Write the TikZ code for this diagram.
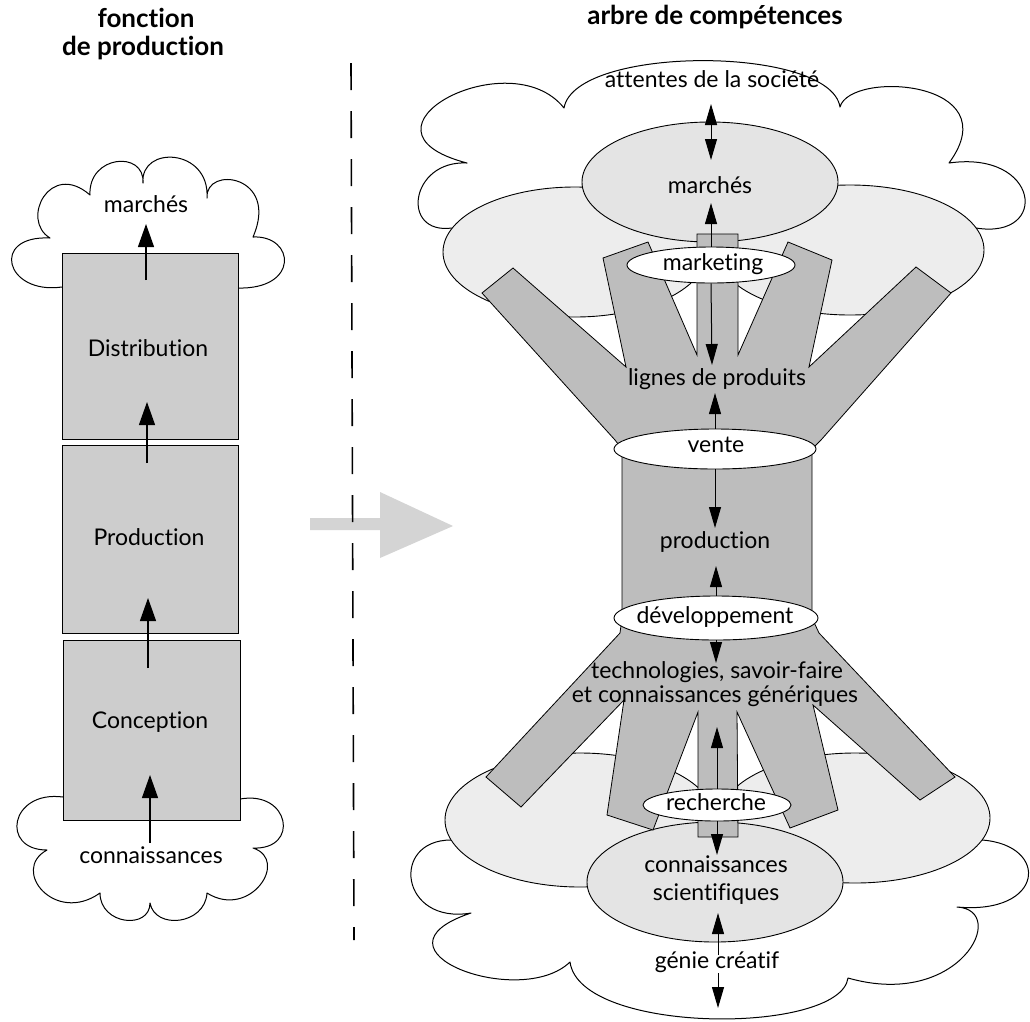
\documentclass[tikz,border=0pt]{standalone}
\usepackage{fontspec}
\setmainfont[Ligatures=NoCommon]{Lato}
\usetikzlibrary{arrows.meta,shapes.geometric}
\definecolor{boxgray}{HTML}{CDCDCD}
\definecolor{treegray}{HTML}{BDBDBD}
\definecolor{lightfill}{HTML}{EDEDED}
\definecolor{midfill}{HTML}{E4E4E4}
\definecolor{arrowgray}{HTML}{D4D4D4}
\begin{document}
\begin{tikzpicture}[x=1pt,y=1pt,
  txt/.style={font=\fontsize{23}{27}\selectfont, inner sep=0pt, text height=11.5pt, text depth=0pt},
  ttl/.style={font=\fontsize{26}{30}\selectfont\bfseries, inner sep=0pt, text height=13pt, text depth=0pt},
  lbox/.style={draw, line width=0.9pt, fill=boxgray, minimum width=176pt, inner sep=0pt},
  cloudline/.style={line width=1pt, line join=round},
  sideell/.style={ellipse, draw, line width=0.9pt, fill=lightfill, inner sep=0pt},
  mainell/.style={ellipse, draw, line width=0.9pt, fill=midfill, inner sep=0pt},
  whiteell/.style={ellipse, draw, line width=0.9pt, fill=white, inner sep=0pt},
  treeshape/.style={draw, line width=0.8pt, fill=treegray, line join=miter},
  larrow/.style={line width=1.2pt, -{Triangle[length=23pt,width=16pt]}},
  rarrow/.style={line width=1pt, -{Triangle[length=21pt,width=12pt]}},
  rdarrow/.style={line width=1pt, {Triangle[length=21pt,width=12pt]}-{Triangle[length=21pt,width=12pt]}},
  sepline/.style={line width=1.6pt, dash pattern=on 27pt off 21pt}
]
\fill[white] (0,0) rectangle (1030,-1021);
\useasboundingbox (0,0) rectangle (1030,-1021);

% ---------------- titles
\node[ttl] (titleL1) at (146,-21) {fonction};
\node[ttl] (titleL2) at (143,-49) {de production};
\node[ttl] (titleR) at (715,-18) {arbre de compétences};

% ---------------- big gray arrow and separator
\fill[arrowgray] (310,-518) -- (380,-518) -- (380,-492) -- (453,-526) -- (380,-558) -- (380,-530) -- (310,-530) -- cycle;
\draw[sepline] (351,-63) -- (354,-940);

% ---------------- left column
\draw[cloudline] (62,-287) .. controls (5,-295) and (-10,-235) .. (50,-238)
 .. controls (20,-220) and (50,-160) .. (90,-195)
 .. controls (88,-155) and (145,-150) .. (143,-183)
 .. controls (140,-145) and (210,-148) .. (207,-198)
 .. controls (205,-165) and (280,-175) .. (253,-237)
 .. controls (295,-235) and (300,-290) .. (237,-288);
\draw[cloudline] (240,-799) .. controls (290,-790) and (300,-850) .. (253,-848)
 .. controls (290,-860) and (250,-920) .. (207,-893)
 .. controls (205,-925) and (155,-930) .. (150,-903)
 .. controls (150,-930) and (100,-925) .. (100,-893)
 .. controls (55,-925) and (10,-870) .. (47,-850)
 .. controls (0,-850) and (10,-790) .. (63,-797);

\node[lbox, minimum height=186pt] (dist) at (150,-346) {};
\node[lbox, minimum height=188pt] (prod) at (150,-539) {};
\node[lbox, minimum width=177pt, minimum height=180pt] (conc) at (151.5,-730) {};

\node[txt] (marchesL) at (146,-207) {marchés};
\node[txt] (distT) at (148,-351) {Distribution};
\node[txt] (prodT) at (149,-540) {Production};
\node[txt] (concT) at (150,-723) {Conception};
\node[txt] (connL) at (151,-858) {connaissances};

\coordinate (la1) at (146,-280); \coordinate (la1t) at (146,-224);
\coordinate (la2) at (147,-463); \coordinate (la2t) at (147,-402);
\coordinate (la3) at (148,-668); \coordinate (la3t) at (148,-598);
\coordinate (la4) at (150,-843); \coordinate (la4t) at (150,-775);
\draw[larrow] (la1) -- (la1t);
\draw[larrow] (la2) -- (la2t);
\draw[larrow] (la3) -- (la3t);
\draw[larrow] (la4) -- (la4t);

% ---------------- right: clouds
\draw[cloudline] (452,-228) .. controls (400,-235) and (410,-160) .. (467,-163)
 .. controls (340,-130) and (510,-40) .. (564,-108)
 .. controls (575,-45) and (830,-45) .. (840,-107)
 .. controls (850,-70) and (1010,-80) .. (949,-163)
 .. controls (1040,-150) and (1050,-240) .. (976,-228);
\draw[cloudline] (982,-840) .. controls (1050,-845) and (1045,-915) .. (957,-907)
 .. controls (1010,-910) and (960,-1010) .. (848,-978)
 .. controls (840,-1035) and (580,-1035) .. (570,-962)
 .. controls (520,-1010) and (360,-950) .. (471,-913)
 .. controls (400,-925) and (390,-840) .. (451,-840);

% ---------------- right: ellipses
\node[sideell, minimum width=264pt, minimum height=130pt] (topL) at (575,-252) {};
\node[sideell, minimum width=268pt, minimum height=130pt] (topR) at (850,-250) {};
\node[mainell, minimum width=256pt, minimum height=120pt] (marchesE) at (710,-182) {};
\node[sideell, minimum width=270pt, minimum height=134pt] (botL) at (580,-820) {};
\node[sideell, minimum width=270pt, minimum height=130pt] (botR) at (855,-818) {};
\node[mainell, minimum width=256pt, minimum height=120pt] (sciE) at (715,-882) {};

% ---------------- right: tree
\draw[treeshape] (622,-449) -- (615,-440) -- (482,-293) -- (513,-268) -- (626,-367)
 -- (603,-258) -- (648,-242) -- (697,-355) -- (697,-234) -- (738,-234) -- (738,-355)
 -- (788,-242) -- (832,-260) -- (809,-367) -- (916,-267) -- (951,-293) -- (821,-440)
 -- (812,-449) -- (812,-618) -- (819,-633) -- (955,-777) -- (920,-800) -- (813,-705)
 -- (838,-810) -- (790,-828) -- (737,-712) -- (738,-837) -- (698,-837) -- (698,-712)
 -- (653,-830) -- (607,-815) -- (624,-700) -- (521,-807) -- (486,-777) -- (620,-633)
 -- (622,-618) -- cycle;

% ---------------- right: white ellipses
\node[whiteell, minimum width=168pt, minimum height=36pt] (mkt) at (711,-265) {};
\node[whiteell, minimum width=202pt, minimum height=40pt] (vente) at (715,-449) {};
\node[whiteell, minimum width=204pt, minimum height=44pt] (dev) at (716,-618) {};
\node[whiteell, minimum width=148pt, minimum height=32pt] (rech) at (717,-805) {};

% ---------------- right: texts
\node[txt] (attT) at (712,-82) {attentes de la société};
\node[txt] (marchesT) at (710,-188) {marchés};
\node[txt] (mktT) at (713,-265) {marketing};
\node[txt] (lignesT) at (717,-380) {lignes de produits};
\node[txt] (venteT) at (716,-447) {vente};
\node[txt] (prodR) at (715,-543) {production};
\node[txt] (devT) at (715,-618) {développement};
\node[txt] (tech1) at (717,-673) {technologies, savoir-faire};
\node[txt] (tech2) at (715,-697) {et connaissances génériques};
\node[txt] (rechT) at (716,-805) {recherche};
\node[txt] (sci1) at (716,-867) {connaissances};
\node[txt] (sci2) at (716,-895) {scientifiques};
\node[txt] (genieT) at (717,-963) {génie créatif};

% ---------------- right: arrows
\coordinate (a1s) at (711,-104); \coordinate (a1e) at (711,-160);
\coordinate (a2e) at (711,-203);
\coordinate (a3e) at (712,-365);
\coordinate (a4e) at (715,-393);
\coordinate (a5e) at (715,-528);
\coordinate (a6e) at (716,-566);
\coordinate (a7e) at (716,-663);
\coordinate (a8e) at (717,-727);
\coordinate (a9e) at (717,-855);
\coordinate (a10s) at (718,-955); \coordinate (a10e) at (718,-913);
\coordinate (a11s) at (718,-973); \coordinate (a11e) at (718,-1008);
\draw[rdarrow] (a1s) -- (a1e);
\draw[rarrow] (mkt.north) -- (a2e);
\draw[rarrow] (mkt.south) -- (a3e);
\draw[rarrow] (vente.north) -- (a4e);
\draw[rarrow] (vente.south) -- (a5e);
\draw[rarrow] (dev.north) -- (a6e);
\draw[rarrow] (dev.south) -- (a7e);
\draw[rarrow] (rech.north) -- (a8e);
\draw[rarrow] (rech.south) -- (a9e);
\draw[rarrow] (a10s) -- (a10e);
\draw[rarrow] (a11s) -- (a11e);
\end{tikzpicture}
\end{document}
